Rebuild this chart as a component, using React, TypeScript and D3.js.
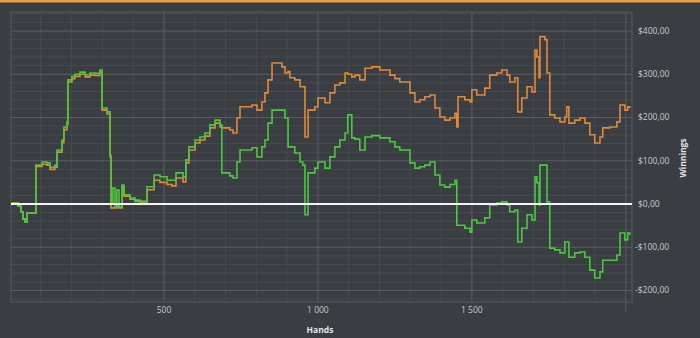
import React from "react";
import * as d3 from "d3";

// Hands (x) shared by both series
const hands = [
  6, 26, 36, 42, 49, 55, 81, 84, 104, 120, 130, 146, 153, 169, 175, 185, 188, 201, 211, 227,
  244, 260, 276, 292, 299, 315, 325, 328, 334, 341, 347, 354, 364, 370, 390, 406, 422, 438, 445, 468,
  487, 510, 526, 539, 562, 571, 581, 601, 617, 633, 649, 666, 682, 688, 714, 724, 737, 747, 786, 802,
  818, 828, 838, 851, 883, 893, 903, 909, 925, 942, 951, 958, 968, 990, 1000, 1023, 1039, 1055, 1071, 1088,
  1097, 1110, 1120, 1136, 1153, 1175, 1201, 1234, 1250, 1266, 1299, 1315, 1331, 1347, 1364, 1380, 1396, 1412, 1429, 1445,
  1451, 1455, 1477, 1494, 1500, 1516, 1542, 1558, 1581, 1597, 1614, 1623, 1640, 1649, 1662, 1679, 1695, 1705, 1711, 1718,
  1721, 1737, 1744, 1753, 1769, 1786, 1802, 1808, 1815, 1834, 1851, 1867, 1883, 1899, 1916, 1925, 1948, 1971, 1981, 1997,
  2006, 2013,
];

// Orange series: winnings
const winnings = [
  2, -5, -18, -35, -42, -21, -21, 87, 92, 90, 80, 85, 120, 142, 172, 184, 282, 290, 295, 300,
  294, 298, 297, 305, 217, 208, 108, -9, -9, -9, -5, -9, 40, 18, 11, 6, 4, 0, 33, 55,
  50, 45, 42, 60, 51, 95, 125, 141, 148, 157, 176, 187, 178, 176, 171, 164, 199, 225, 229, 217,
  236, 257, 287, 326, 317, 303, 306, 292, 287, 271, 271, 155, 217, 225, 245, 234, 257, 275, 280, 303,
  300, 294, 298, 287, 314, 317, 310, 298, 290, 282, 257, 236, 241, 248, 252, 222, 201, 194, 199, 210,
  178, 248, 241, 236, 264, 252, 268, 298, 303, 310, 298, 282, 292, 213, 245, 271, 259, 356, 340, 292,
  387, 380, 303, 206, 199, 190, 201, 225, 187, 194, 199, 187, 160, 141, 155, 176, 178, 190, 229, 217,
  225, 222,
];

// Green series
const allInEv = [
  2, -5, -18, -35, -42, -21, -21, 90, 97, 95, 85, 90, 125, 148, 178, 190, 287, 295, 300, 305,
  299, 303, 302, 310, 222, 213, 113, 0, 37, -7, 32, -7, 44, 21, 14, 9, 7, 2, 40, 67,
  63, 55, 55, 72, 63, 102, 132, 148, 155, 164, 183, 194, 183, 72, 65, 60, 97, 125, 130, 109,
  132, 148, 187, 217, 217, 199, 132, 132, 118, 97, 90, -25, 72, 83, 97, 83, 109, 132, 148, 164,
  206, 153, 150, 125, 155, 158, 153, 144, 132, 125, 95, 83, 86, 90, 97, 67, 44, 39, 45, 55,
  -49, -49, -56, -65, -37, -44, -32, -2, 2, 5, -2, -18, -14, -88, -56, -25, -37, 63, 49, -2,
  90, 90, 5, -102, -106, -113, -88, -88, -123, -113, -111, -123, -153, -171, -157, -130, -130, -118, -67, -83,
  -67, -72,
];

const yTicks = [400, 300, 200, 100, 0, -100, -200];
const xTicks = [500, 1000, 1500];

const W = 700;
const H = 338;
const left = 11;
const right = 632;
const top = 12;
const bottom = 302;

const fmtMoney = (v: number) =>
  (v < 0 ? "-" : "") + "$" + Math.abs(v).toFixed(2).replace(".", ",");
const fmtHands = (v: number) => (v >= 1000 ? `${Math.floor(v / 1000)} ${String(v % 1000).padStart(3, "0")}` : String(v));

export default function App() {
  const x = d3.scaleLinear().domain([0, 2020]).range([10, 632]);
  const y = d3.scaleLinear().domain([0, 400]).range([204, 31]);

  const minorX = d3.range(100, 2020, 100).filter((v) => v % 500 !== 0);
  const majorX = d3.range(500, 2020, 500);
  const minorY = d3.range(-220, 445, 20).filter((v) => v % 100 !== 0 && y(v) > top && y(v) < bottom);
  const majorY = yTicks;

  const line = d3
    .line<number>()
    .x((_, i) => x(hands[i]))
    .y((d) => y(d))
    .curve(d3.curveStepAfter);

  const font = "'Open Sans', 'Segoe UI', sans-serif";

  return (
    <svg
      width={W}
      height={H}
      style={{ position: "absolute", left: 0, top: 0, display: "block" }}
    >
      <rect x={0} y={0} width={W} height={H} fill="#3a3d42" />
      <rect x={0} y={0} width={W} height={2.5} fill="#e3a044" />
      {minorX.map((v) => (
        <line key={"mx" + v} x1={x(v)} x2={x(v)} y1={top} y2={bottom} stroke="#474a4f" strokeWidth={1} />
      ))}
      {minorY.map((v) => (
        <line key={"my" + v} x1={left} x2={right} y1={y(v)} y2={y(v)} stroke="#474a4f" strokeWidth={1} />
      ))}
      {majorX.map((v) => (
        <line key={"Mx" + v} x1={x(v)} x2={x(v)} y1={top} y2={v === 2000 ? 312 : bottom} stroke="#5a5e63" strokeWidth={1} />
      ))}
      {majorY.map((v) => (
        <line key={"My" + v} x1={left} x2={right} y1={y(v)} y2={y(v)} stroke="#5a5e63" strokeWidth={1} />
      ))}
      <rect x={left} y={top} width={right - left} height={bottom - top} fill="none" stroke="#565a5f" strokeWidth={1} />

      <path d={line(winnings) ?? ""} fill="none" stroke="#dd8a3c" strokeWidth={1.6} />
      <path d={line(allInEv) ?? ""} fill="none" stroke="#4cc742" strokeWidth={1.6} />
      <line x1={left} x2={right} y1={y(0)} y2={y(0)} stroke="#f4f4f4" strokeWidth={2} />

      {yTicks.map((v) => (
        <text
          key={"yt" + v}
          x={v < 0 ? 635 : 638}
          y={y(v)}
          dy="0.35em"
          fill="#c9cbce"
          fontSize={8.5}
          fontFamily={font}
        >
          {fmtMoney(v)}
        </text>
      ))}
      {xTicks.map((v) => (
        <text
          key={"xt" + v}
          x={x(v)}
          y={313}
          textAnchor="middle"
          fill="#c9cbce"
          fontSize={8.5}
          fontFamily={font}
        >
          {fmtHands(v)}
        </text>
      ))}
      <text x={320} y={333} textAnchor="middle" fill="#e4e5e7" fontSize={8.5} fontWeight="bold" fontFamily={font}>
        Hands
      </text>
      <text
        transform={`translate(686,158) rotate(-90)`}
        textAnchor="middle"
        fill="#e4e5e7"
        fontSize={8.5}
        fontWeight="bold"
        fontFamily={font}
      >
        Winnings
      </text>
    </svg>
  );
}
